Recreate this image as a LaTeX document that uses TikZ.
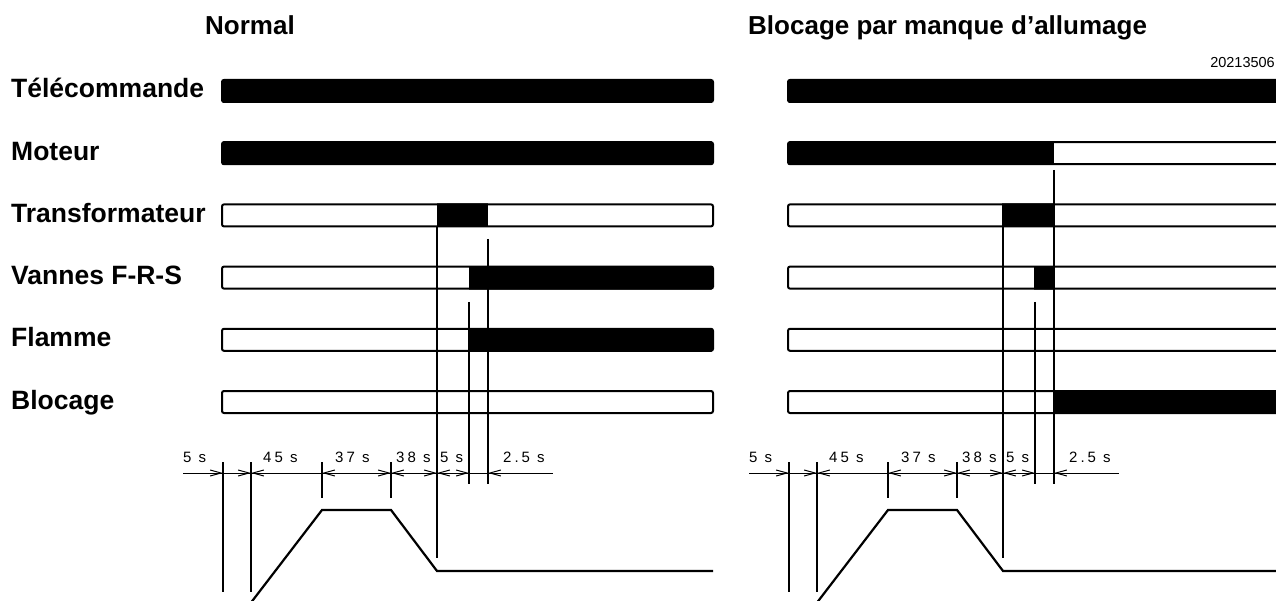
\documentclass[tikz,border=0pt]{standalone}
\usepackage{fontspec}
\setmainfont{Liberation Sans}
\newfontfamily\dimfont{Liberation Sans}[LetterSpace=20]
\usetikzlibrary{arrows.meta}

% #1 = y centre, #2 = right end, #3 = black segments a/b
\newcommand\tbar[3]{%
  \begin{scope}
    \clip[rounded corners=2pt] (222,#1-12) rectangle (#2,#1+12);
    \fill[white] (222,#1-12) rectangle (#2,#1+12);
    \foreach \a/\b in {#3} { \fill[black] (\a,#1-12) rectangle (\b,#1+12); }
  \end{scope}
  \draw[barline] (222,#1-11) rectangle (#2,#1+11);
}

% #1 = name prefix, #2 = start of the 488 guide
\newcommand\panelcommon[2]{%
  \draw[guide] (437,227) -- (437,558);
  \draw[guide] (469,302) -- (469,484);
  \draw[guide] (488,#2) -- (488,484);
  \draw[guide] (223,462) -- (223,592);
  \draw[guide] (251,462) -- (251,592);
  \draw[guide] (322,462) -- (322,498);
  \draw[guide] (391,462) -- (391,498);
  \draw[dimline] (183,473) -- (553,473);
  \foreach \t in {223,251,391,437,469} { \draw[dimarr] (\t-12,473) -- (\t,473); }
  \foreach \t in {251,322,391,437,488} { \draw[dimarr] (\t+12,473) -- (\t,473); }
  \node[dimlabel] (#1d1) at (183,462) {5 s};
  \node[dimlabel] (#1d2) at (263,462) {45 s};
  \node[dimlabel] (#1d3) at (335,462) {37 s};
  \node[dimlabel] (#1d4) at (396,462) {38 s};
  \node[dimlabel] (#1d5) at (440,462) {5 s};
  \node[dimlabel] (#1d6) at (503,462) {2.5 s};
  \draw[ramp] (251,602.6) -- (322,510) -- (391,510) -- (437,571) -- (713,571);
}

\begin{document}
\begin{tikzpicture}[x=1pt,y=-1pt,
  rowlabel/.style={font=\fontsize{26.5}{30}\selectfont\bfseries, anchor=base west, inner sep=0pt},
  titlelabel/.style={font=\fontsize{26}{30}\selectfont\bfseries, inner sep=0pt},
  dimlabel/.style={font=\dimfont\fontsize{15}{16}\selectfont, anchor=base west, inner sep=0pt},
  reflabel/.style={font=\fontsize{14.5}{16}\selectfont, anchor=base east, inner sep=0pt},
  guide/.style={line width=1.1pt, black},
  dimline/.style={line width=1pt, black},
  dimarr/.style={line width=1pt, -{Straight Barb[length=11pt,width=6pt]}},
  barline/.style={line width=2pt, rounded corners=2pt},
  ramp/.style={line width=2.2pt, line join=miter}]
\useasboundingbox (0,0) rectangle (1276,601);
\clip (0,0) rectangle (1276,601);

% titles
\node[titlelabel, anchor=base] (tnormal) at (250,35) {Normal};
\node[titlelabel, anchor=base west] (tblocage) at (748,35) {Blocage par manque d’allumage};
\node[reflabel] (ref) at (1275,68) {20213506};

% row labels
\node[rowlabel] (l1) at (11,98) {Télécommande};
\node[rowlabel] (l2) at (11,160.2) {Moteur};
\node[rowlabel] (l3) at (11,222.4) {Transformateur};
\node[rowlabel] (l4) at (11,284.6) {Vannes F-R-S};
\node[rowlabel] (l5) at (11,346.8) {Flamme};
\node[rowlabel] (l6) at (11,409) {Blocage};

% left panel: normal
\tbar{91}{713}{222/713}
\tbar{153.2}{713}{222/713}
\tbar{215.4}{713}{437/488}
\tbar{277.6}{713}{468.5/713}
\tbar{339.8}{713}{468.5/713}
\tbar{402}{713}{0/0}
\panelcommon{a}{239}

% right panel: lockout
\begin{scope}[xshift=566pt]
\tbar{91}{713}{222/713}
\tbar{153.2}{713}{222/488}
\tbar{215.4}{713}{436/488}
\tbar{277.6}{713}{468/488}
\tbar{339.8}{713}{0/0}
\tbar{402}{713}{488/713}
\panelcommon{b}{170}
\end{scope}
\end{tikzpicture}
\end{document}
